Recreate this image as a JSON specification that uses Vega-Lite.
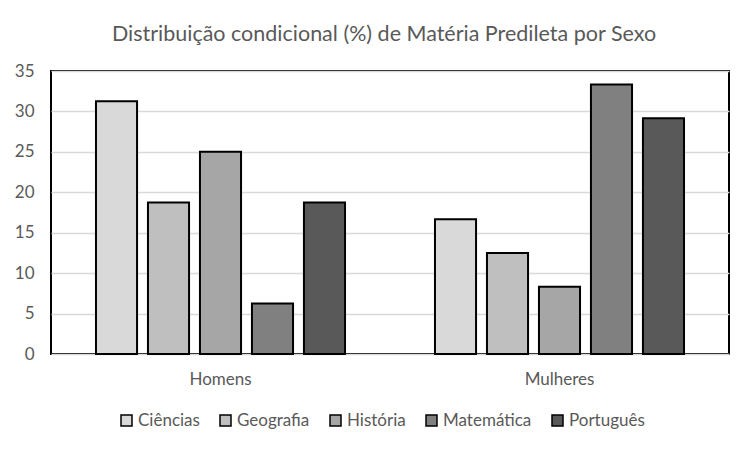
{
  "$schema": "https://vega.github.io/schema/vega-lite/v6.json",
  "autosize": "none",
  "width": 678,
  "height": 283,
  "padding": {"left": 51, "top": 71, "right": 23, "bottom": 98},
  "background": "white",
  "title": {
    "text": "Distribuição condicional (%) de Matéria Predileta por Sexo",
    "font": "Lato",
    "fontSize": 21.5,
    "fontWeight": "normal",
    "color": "#595959",
    "anchor": "middle",
    "baseline": "alphabetic",
    "offset": 0,
    "dx": -6
  },
  "data": {
    "values": [
      {"Sexo": "Homens", "Materia": "Ciências", "Pct": 31.25},
      {"Sexo": "Homens", "Materia": "Geografia", "Pct": 18.75},
      {"Sexo": "Homens", "Materia": "História", "Pct": 25},
      {"Sexo": "Homens", "Materia": "Matemática", "Pct": 6.25},
      {"Sexo": "Homens", "Materia": "Português", "Pct": 18.75},
      {"Sexo": "Mulheres", "Materia": "Ciências", "Pct": 16.67},
      {"Sexo": "Mulheres", "Materia": "Geografia", "Pct": 12.5},
      {"Sexo": "Mulheres", "Materia": "História", "Pct": 8.33},
      {"Sexo": "Mulheres", "Materia": "Matemática", "Pct": 33.33},
      {"Sexo": "Mulheres", "Materia": "Português", "Pct": 29.17}
    ]
  },
  "mark": {"type": "bar", "stroke": "black", "strokeWidth": 2},
  "encoding": {
    "x": {
      "field": "Sexo",
      "type": "nominal",
      "scale": {"paddingInner": 0, "paddingOuter": 0},
      "axis": {
        "title": null,
        "labelAngle": 0,
        "ticks": false,
        "domain": false,
        "labelPadding": 17,
        "labelFont": "Lato",
        "labelFontSize": 17,
        "labelColor": "#595959"
      }
    },
    "xOffset": {
      "field": "Materia",
      "type": "nominal",
      "sort": ["Ciências", "Geografia", "História", "Matemática", "Português"],
      "scale": {"paddingInner": 0.21, "paddingOuter": 0.865}
    },
    "y": {
      "field": "Pct",
      "type": "quantitative",
      "scale": {"domain": [0, 35], "nice": false},
      "axis": {
        "title": null,
        "values": [0, 5, 10, 15, 20, 25, 30, 35],
        "ticks": false,
        "domain": false,
        "grid": true,
        "gridColor": "#d9d9d9",
        "gridWidth": 1.5,
        "labelPadding": 17,
        "labelFont": "Lato",
        "labelFontSize": 17,
        "labelColor": "#595959"
      }
    },
    "fill": {
      "field": "Materia",
      "type": "nominal",
      "sort": ["Ciências", "Geografia", "História", "Matemática", "Português"],
      "scale": {
        "domain": ["Ciências", "Geografia", "História", "Matemática", "Português"],
        "range": ["#d9d9d9", "#bfbfbf", "#a6a6a6", "#808080", "#595959"]
      },
      "legend": {
        "title": null,
        "orient": "none",
        "legendX": 67,
        "legendY": 341,
        "direction": "horizontal",
        "symbolType": "square",
        "symbolSize": 121,
        "symbolStrokeColor": "black",
        "symbolStrokeWidth": 1.5,
        "labelFont": "Lato",
        "labelFontSize": 17,
        "labelColor": "#595959",
        "columnPadding": 17,
        "labelOffset": 3
      }
    }
  },
  "config": {
    "view": {"stroke": "black", "strokeWidth": 2}
  }
}
